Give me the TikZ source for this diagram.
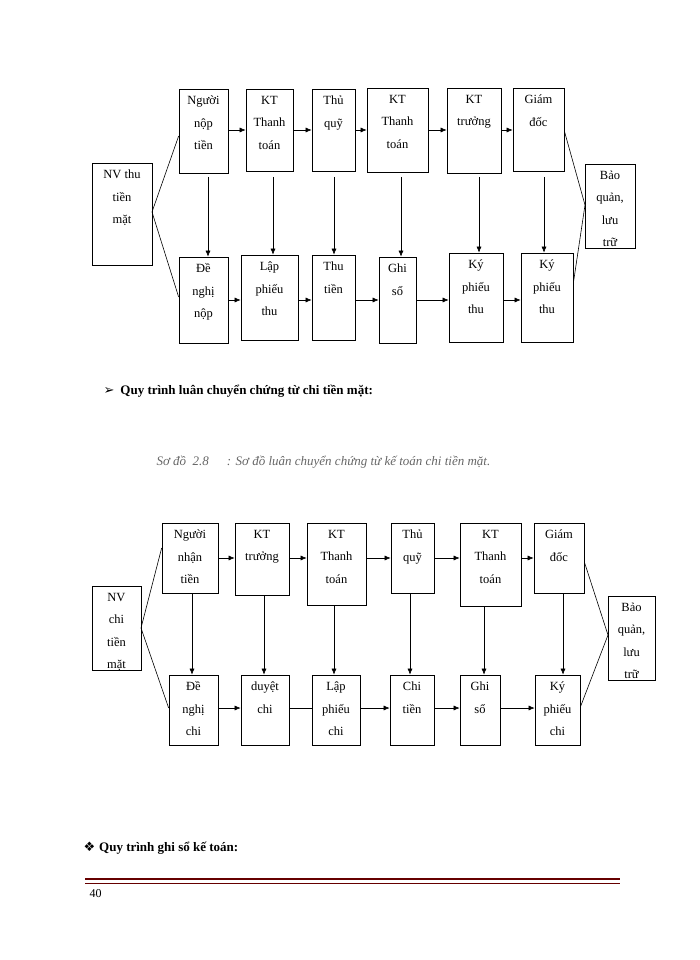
\documentclass[tikz,border=0pt]{standalone}
\usepackage{fontspec}
\setmainfont{Liberation Serif}
\newfontfamily\symf{DejaVu Sans}
\usetikzlibrary{arrows.meta}
\newcommand\bx[6]{%
  \node[draw,line width=0.7pt,inner sep=0pt,minimum width={(#4-#2)*1pt},minimum height={(#5-#3)*1pt}] (#1) at ({(#2+#4)/2},{(#3+#5)/2}) {};
  \node[anchor=north,align=center,font=\fontsize{12.5}{22.5}\selectfont,inner sep=0pt] at ([yshift=-7pt]#1.north) {#6};}
\begin{document}
\begin{tikzpicture}[x=1pt,y=-1pt,
  ar/.style={-{Latex[length=6pt,width=5pt]},line width=0.6pt},
  ln/.style={line width=0.6pt}]
\useasboundingbox (0,0) rectangle (700,960);
% ---- top diagram
\bx{a0}{92}{163}{152}{265}{NV thu\\tiền\\mặt}
\bx{a1}{179}{89}{228}{173}{Người\\nộp\\tiền}
\bx{a2}{246}{89}{293}{171}{KT\\Thanh\\toán}
\bx{a3}{312}{89}{355}{171}{Thủ\\quỹ}
\bx{a4}{367}{88}{428}{172}{KT\\Thanh\\toán}
\bx{a5}{447}{88}{501}{173}{KT\\trưởng}
\bx{a6}{513}{88}{564}{171}{Giám\\đốc}
\bx{a7}{585}{164}{635}{248}{Bảo\\quản,\\lưu\\trữ}
\bx{b1}{179}{257}{228}{343}{Đề\\nghị\\nộp}
\bx{b2}{241}{255}{298}{340}{Lập\\phiếu\\thu}
\bx{b3}{312}{255}{355}{340}{Thu\\tiền}
\bx{b4}{379}{257}{416}{343}{Ghi\\sổ}
\bx{b5}{449}{253}{503}{342}{Ký\\phiếu\\thu}
\bx{b6}{521}{253}{573}{342}{Ký\\phiếu\\thu}
\foreach \p/\q in {a1/a2,a2/a3,a3/a4,a4/a5,a5/a6}
  \draw[ar] (\p.east|-0,130) -- (\q.west|-0,130);
\foreach \p/\q in {b1/b2,b2/b3,b3/b4,b4/b5,b5/b6}
  \draw[ar] (\p.east|-0,300) -- (\q.west|-0,300);
\foreach \p/\q/\x in {a1/b1/208,a2/b2/273,a3/b3/334,a4/b4/401,a5/b5/479,a6/b6/544}
  \draw[ar] (\x,177) -- (\q.north-|\x,0);
\coordinate (n0) at (152,212);
\draw[ln] (n0) -- (a1.west|-0,136);
\draw[ln] (n0) -- (b1.west|-0,297);
\coordinate (m0) at (585,205);
\draw[ln] (a6.east|-0,131) -- (m0);
\draw[ln] (b6.east|-0,283) -- (m0);
% ---- texts
\node[anchor=west,font=\fontsize{13}{15}\selectfont\bfseries] (t1) at (100,391) {{\symf\mdseries ➢}\hspace{6pt}Quy trình luân chuyển chứng từ chi tiền mặt:};
\node[anchor=west,font=\fontsize{13}{15}\selectfont\itshape,text=black!60] (t2) at (153,462) {Sơ đồ\ \ 2.8\hspace{18pt}: Sơ đồ luân chuyển chứng từ kế toán chi tiền mặt.};
% ---- bottom diagram
\bx{c0}{92}{586}{141}{670}{NV\\chi\\tiền\\mặt}
\bx{c1}{162}{523}{218}{593}{Người\\nhận\\tiền}
\bx{c2}{235}{523}{289}{595}{KT\\trưởng}
\bx{c3}{307}{523}{366}{605}{KT\\Thanh\\toán}
\bx{c4}{391}{523}{434}{593}{Thủ\\quỹ}
\bx{c5}{460}{523}{521}{606}{KT\\Thanh\\toán}
\bx{c6}{534}{523}{584}{593}{Giám\\đốc}
\bx{c7}{608}{596}{655}{680}{Bảo\\quản,\\lưu\\trữ}
\bx{d1}{169}{675}{218}{745}{Đề\\nghị\\chi}
\bx{d2}{241}{675}{289}{745}{duyệt\\chi}
\bx{d3}{312}{675}{360}{745}{Lập\\phiếu\\chi}
\bx{d4}{390}{675}{434}{745}{Chi\\tiền}
\bx{d5}{460}{675}{500}{745}{Ghi\\sổ}
\bx{d6}{535}{675}{580}{745}{Ký\\phiếu\\chi}
\foreach \p/\q in {c1/c2,c2/c3,c3/c4,c4/c5,c5/c6}
  \draw[ar] (\p.east|-0,558) -- (\q.west|-0,558);
\foreach \p/\q in {d1/d2,d3/d4,d4/d5,d5/d6}
  \draw[ar] (\p.east|-0,708) -- (\q.west|-0,708);
\draw[ln] (d2.east|-0,708) -- (d3.west|-0,708);
\foreach \p/\q/\x in {c1/d1/192,c2/d2/264,c3/d3/334,c4/d4/410,c5/d5/484,c6/d6/563}
  \draw[ar] (\p.south-|\x,0) -- (\q.north-|\x,0);
\coordinate (n1) at (141,628);
\draw[ln] (n1) -- (c1.west|-0,548);
\draw[ln] (n1) -- (d1.west|-0,708);
\coordinate (m1) at (608,635);
\draw[ln] (c6.east|-0,562) -- (m1);
\draw[ln] (d6.east|-0,707) -- (m1);
% ---- footer
\node[anchor=west,font=\fontsize{13}{15}\selectfont\bfseries] (t3) at (80,848) {{\symf\mdseries ❖}\hspace{4pt}Quy trình ghi sổ kế toán:};
\draw[line width=1.6pt,red!40!black] (85,879) -- (620,879);
\draw[line width=0.5pt,red!40!black] (85,883) -- (620,883);
\node[anchor=west,font=\fontsize{12}{14}\selectfont] (pg) at (86,894) {40};
\end{tikzpicture}
\end{document}
